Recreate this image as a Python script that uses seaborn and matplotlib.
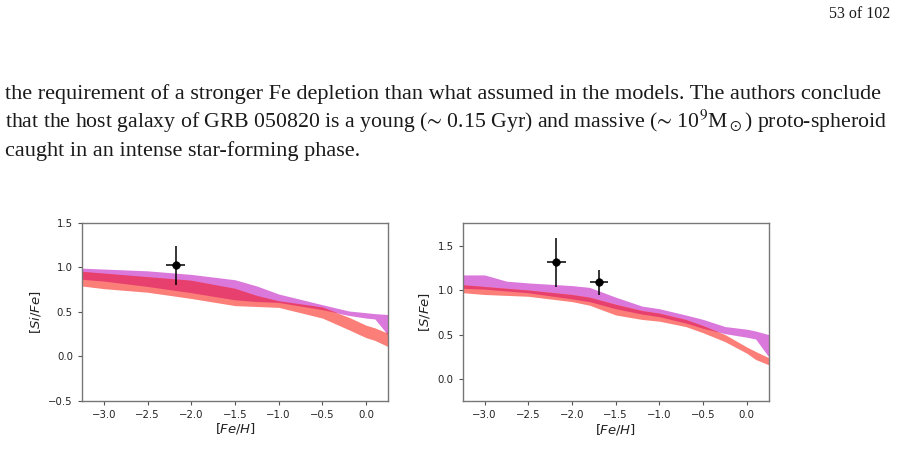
import numpy as np
import matplotlib
matplotlib.use("Agg")
from matplotlib import pyplot as plt
import seaborn as sns
import pandas as pd

# ---- page text ----
page_number = "53 of 102"
text_lines = [
    "the requirement of a stronger Fe depletion than what assumed in the models. The authors conclude",
    "that the host galaxy of GRB 050820 is a young ($\u223c$ 0.15 Gyr) and massive ($\u223c$ 10$^9$M$_\\odot$) proto-spheroid",
    "caught in an intense star-forming phase.",
]

# ---- left panel: [Si/Fe] vs [Fe/H] ----
si_feh = [-3.25, -3.0, -2.5, -2.0, -1.5, -1.25, -1.0, -0.5, -0.2, 0.0, 0.1, 0.25]
si_orchid_hi = [0.99, 0.98, 0.96, 0.92, 0.86, 0.79, 0.70, 0.58, 0.51, 0.49, 0.48, 0.47]
si_orchid_lo = [0.86, 0.84, 0.78, 0.71, 0.63, 0.61, 0.60, 0.52, 0.46, 0.43, 0.42, 0.24]
si_salmon_hi = [0.95, 0.93, 0.89, 0.85, 0.76, 0.68, 0.62, 0.55, 0.44, 0.35, 0.32, 0.26]
si_salmon_lo = [0.79, 0.76, 0.72, 0.65, 0.57, 0.56, 0.55, 0.43, 0.30, 0.21, 0.18, 0.11]
si_obs_x = [-2.18]
si_obs_y = [1.02]
si_obs_xerr = [0.11]
si_obs_yerr = [0.22]

# ---- right panel: [S/Fe] vs [Fe/H] ----
s_feh = [-3.25, -3.0, -2.75, -2.5, -2.0, -1.8, -1.5, -1.2, -1.0, -0.7, -0.5, -0.25, 0.0, 0.1, 0.25]
s_orchid_hi = [1.17, 1.17, 1.10, 1.08, 1.05, 1.03, 0.92, 0.82, 0.79, 0.72, 0.67, 0.59, 0.56, 0.54, 0.50]
s_orchid_lo = [1.02, 1.01, 0.99, 0.97, 0.90, 0.87, 0.79, 0.73, 0.70, 0.63, 0.57, 0.51, 0.47, 0.45, 0.25]
s_salmon_hi = [1.06, 1.04, 1.02, 1.00, 0.95, 0.92, 0.84, 0.77, 0.74, 0.67, 0.60, 0.50, 0.36, 0.31, 0.24]
s_salmon_lo = [0.97, 0.95, 0.94, 0.93, 0.87, 0.83, 0.72, 0.67, 0.65, 0.59, 0.52, 0.42, 0.29, 0.22, 0.16]
s_obs_x = [-2.18, -1.69]
s_obs_y = [1.31, 1.085]
s_obs_xerr = [0.11, 0.10]
s_obs_yerr = [0.28, 0.14]

ORCHID = "#da78dc"
SALMON = "#fb7f78"
CRIMSON = "#e8406e"

sns.set_style("white")
plt.rcParams["font.family"] = ["DejaVu Sans"]
plt.rcParams["mathtext.fontset"] = "stix"

fig = plt.figure(figsize=(8.97, 4.5), dpi=100)
W, H = 897, 450

serif = ["Liberation Serif", "DejaVu Serif"]
renderer = fig.canvas.get_renderer()


def fitted_size(s, width_px):
    probe = fig.text(0, 0, s, fontsize=14, family=serif)
    w = probe.get_window_extent(renderer).width
    probe.remove()
    return 14 * width_px / w


# first two lines are justified to the text width
body_size = fitted_size(text_lines[0], 883)
sizes = [body_size, min(fitted_size(text_lines[1], 883), body_size * 1.04), body_size]

baselines = [99, 127.7, 156]
for line, yb, fs in zip(text_lines, baselines, sizes):
    fig.text(5 / W, 1 - yb / H, line, fontsize=fs, family=serif,
             va="baseline", ha="left", color="#1a1a1a")

fig.text(890 / W, 1 - 18.3 / H, page_number, fontsize=11.5, family=serif,
         va="baseline", ha="right", color="#1a1a1a")


def panel(rect, feh, o_hi, o_lo, s_hi, s_lo, ox, oy, oxe, oye, ylabel, ylim, yticks):
    ax = fig.add_axes(rect)
    df = pd.DataFrame({"feh": feh, "o_hi": o_hi, "o_lo": o_lo, "s_hi": s_hi, "s_lo": s_lo})
    ax.fill_between(df["feh"], df["o_lo"], df["o_hi"], color=ORCHID, lw=0)
    ax.fill_between(df["feh"], df["s_lo"], df["s_hi"], color=SALMON, lw=0)
    ov_lo = np.maximum(df["o_lo"], df["s_lo"])
    ov_hi = np.minimum(df["o_hi"], df["s_hi"])
    ax.fill_between(df["feh"], ov_lo, ov_hi, where=ov_hi > ov_lo, color=CRIMSON, lw=0,
                    interpolate=True)
    ax.errorbar(ox, oy, xerr=oxe, yerr=oye, fmt="none", ecolor="black", elinewidth=1.1)
    sns.scatterplot(x=ox, y=oy, ax=ax, color="black", s=30, edgecolor="black", zorder=5)
    ax.set_xlim(-3.25, 0.25)
    ax.set_ylim(*ylim)
    ax.set_xticks([-3.0, -2.5, -2.0, -1.5, -1.0, -0.5, 0.0])
    ax.set_yticks(yticks)
    ax.tick_params(axis="both", labelsize=7.3, length=3, width=0.8, color="#555555",
                   direction="out", bottom=True, left=True, labelcolor="#222222")
    for sp in ax.spines.values():
        sp.set_color("#777777")
        sp.set_linewidth(1.0)
    ax.set_xlabel(r"$[Fe/H]$", fontsize=9.5, labelpad=1, color="#222222",
                  math_fontfamily="dejavusans")
    ax.set_ylabel(ylabel, fontsize=9.5, labelpad=4, color="#222222",
                  math_fontfamily="dejavusans")
    return ax


panel([82 / W, 1 - 401 / H, 306 / W, 178.3 / H], si_feh, si_orchid_hi, si_orchid_lo,
      si_salmon_hi, si_salmon_lo, si_obs_x, si_obs_y, si_obs_xerr, si_obs_yerr,
      r"$[Si/Fe]$", (-0.5, 1.5), [-0.5, 0.0, 0.5, 1.0, 1.5])
panel([462.7 / W, 1 - 401.3 / H, 306 / W, 178 / H], s_feh, s_orchid_hi, s_orchid_lo,
      s_salmon_hi, s_salmon_lo, s_obs_x, s_obs_y, s_obs_xerr, s_obs_yerr,
      r"$[S/Fe]$", (-0.25, 1.75), [0.0, 0.5, 1.0, 1.5])

fig.savefig("out.png", dpi=100)
